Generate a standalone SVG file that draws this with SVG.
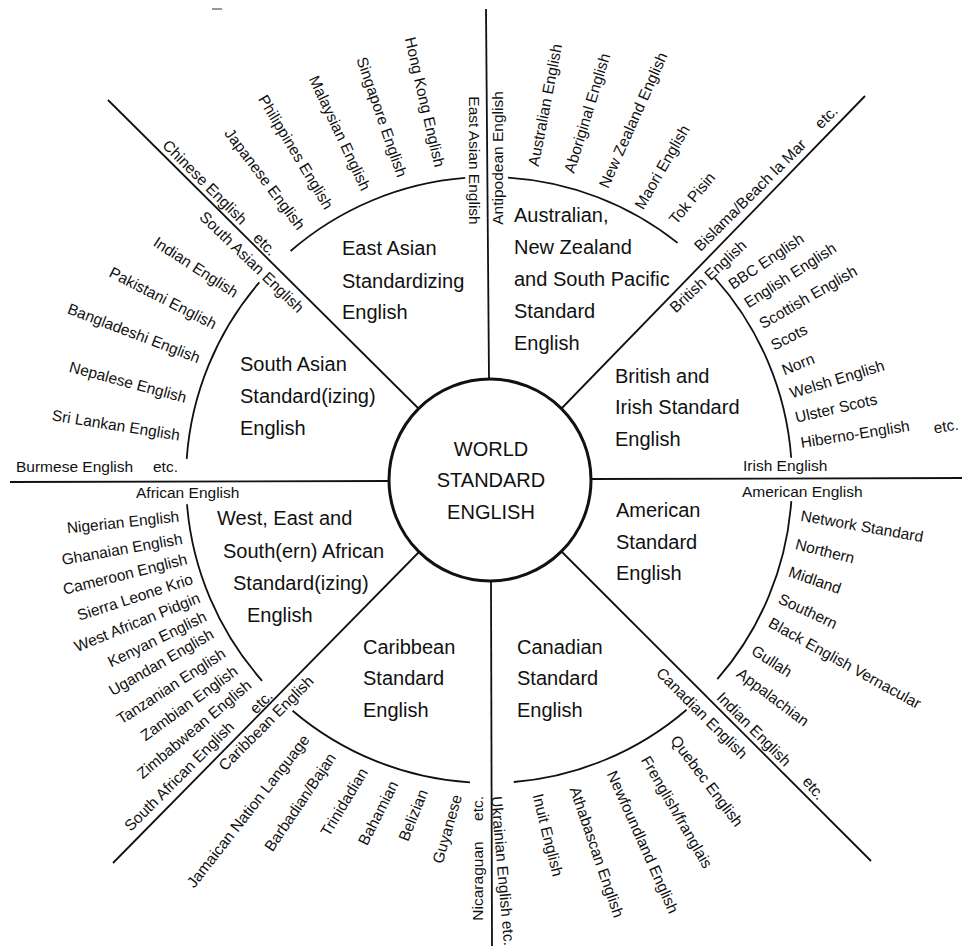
<svg xmlns="http://www.w3.org/2000/svg" width="965" height="946" viewBox="0 0 965 946">
<style>
text{font-family:"Liberation Sans",Arial,Helvetica,sans-serif;fill:#111}
.s{font-size:15.5px}
.r{font-size:15.5px;text-anchor:middle}
.b{font-size:20px}
.c{font-size:20px;text-anchor:middle}
.ln{stroke:#111;stroke-width:1.8;fill:none}
</style>
<rect width="965" height="946" fill="#fff"/>
<line x1="212" y1="9" x2="222" y2="9" stroke="#555" stroke-width="1.2"/>
<g id="connectors" class="ln">
<line x1="486" y1="9" x2="489" y2="379"/>
<line x1="491" y1="581" x2="492" y2="946"/>
<line x1="10" y1="482" x2="389" y2="481"/>
<line x1="591" y1="479" x2="962" y2="478"/>
<line x1="108" y1="100" x2="419" y2="409"/>
<line x1="865" y1="96" x2="561" y2="409"/>
<line x1="113" y1="863" x2="419" y2="552"/>
<line x1="871" y1="861" x2="562" y2="552"/>
</g>
<g id="ring" class="ln">
<path d="M290.6 251 A303 303 0 0 1 465.2 177.9"/>
<path d="M508 177.6 A303 303 0 0 1 677.6 242.9"/>
<path d="M714.9 278 A303 303 0 0 1 791.2 457.8"/>
<path d="M791.3 501.1 A303 303 0 0 1 717.3 679.2"/>
<path d="M686.6 709.7 A303 303 0 0 1 513.8 782"/>
<path d="M470 782.4 A303 303 0 0 1 292.6 710.7"/>
<path d="M262.1 680.8 A303 303 0 0 1 187 504.3"/>
<path d="M186.7 458.9 A303 303 0 0 1 259.3 282.4"/>
</g>
<g id="world">
<circle cx="490" cy="480" r="101" fill="#fff" stroke="#111" stroke-width="3"/>
<text class="c" x="491" y="456">WORLD</text>
<text class="c" x="491" y="487">STANDARD</text>
<text class="c" x="491" y="519">ENGLISH</text>
</g>
<g id="east-asian">
<text class="b" x="342" y="255">East Asian</text>
<text class="b" x="342" y="288">Standardizing</text>
<text class="b" x="342" y="319">English</text>
<text class="r" transform="translate(205 182) rotate(45)" y="5.5">Chinese English</text>
<text class="r" transform="translate(265 244) rotate(45)" y="5.5">etc.</text>
<text class="r" transform="translate(265 179) rotate(53)" y="5.5">Japanese English</text>
<text class="r" transform="translate(296 152) rotate(59)" y="5.5">Philippines English</text>
<text class="r" transform="translate(340 133) rotate(65)" y="5.5">Malaysian English</text>
<text class="r" transform="translate(382 117) rotate(71)" y="5.5">Singapore English</text>
<text class="r" transform="translate(425 102) rotate(77)" y="5.5">Hong Kong English</text>
<text class="r" transform="translate(474.5 160.5) rotate(90)" y="5.5">East Asian English</text>
</g>
<g id="antipodean">
<text class="b" x="514" y="222">Australian,</text>
<text class="b" x="514" y="254">New Zealand</text>
<text class="b" x="514" y="286">and South Pacific</text>
<text class="b" x="514" y="318">Standard</text>
<text class="b" x="514" y="350">English</text>
<text class="r" transform="translate(497.5 158) rotate(-90)" y="5.5">Antipodean English</text>
<text class="r" transform="translate(545 105) rotate(-79)" y="5.5">Australian English</text>
<text class="r" transform="translate(587 113) rotate(-73)" y="5.5">Aboriginal English</text>
<text class="r" transform="translate(633 120) rotate(-66)" y="5.5">New Zealand English</text>
<text class="r" transform="translate(662 167) rotate(-60)" y="5.5">Maori English</text>
<text class="r" transform="translate(692 198) rotate(-50)" y="5.5">Tok Pisin</text>
<text class="r" transform="translate(750 195) rotate(-45)" y="5.5">Bislama/Beach la Mar</text>
<text class="r" transform="translate(826 117) rotate(-45)" y="5.5">etc.</text>
</g>
<g id="british">
<text class="b" x="615" y="383">British and</text>
<text class="b" x="615" y="414">Irish Standard</text>
<text class="b" x="615" y="446">English</text>
<text class="r" transform="translate(708 276) rotate(-43)" y="5.5">British English</text>
<text class="r" transform="translate(766 261) rotate(-34)" y="5.5">BBC English</text>
<text class="r" transform="translate(790 275) rotate(-33)" y="5.5">English English</text>
<text class="r" transform="translate(808 297) rotate(-30)" y="5.5">Scottish English</text>
<text class="r" transform="translate(789 337) rotate(-27)" y="5.5">Scots</text>
<text class="r" transform="translate(798 364) rotate(-22)" y="5.5">Norn</text>
<text class="r" transform="translate(837 379) rotate(-17)" y="5.5">Welsh English</text>
<text class="r" transform="translate(836 408) rotate(-13)" y="5.5">Ulster Scots</text>
<text class="r" transform="translate(855 434) rotate(-9)" y="5.5">Hiberno-English</text>
<text class="r" transform="translate(946 426) rotate(-9)" y="5.5">etc.</text>
<text class="s" x="743" y="471">Irish English</text>
</g>
<g id="american">
<text class="b" x="616" y="517">American</text>
<text class="b" x="616" y="549">Standard</text>
<text class="b" x="616" y="580">English</text>
<text class="s" x="742" y="497">American English</text>
<text class="r" transform="translate(862 526) rotate(10)" y="5.5">Network Standard</text>
<text class="r" transform="translate(825 551) rotate(14)" y="5.5">Northern</text>
<text class="r" transform="translate(815 580) rotate(19)" y="5.5">Midland</text>
<text class="r" transform="translate(808 611) rotate(25)" y="5.5">Southern</text>
<text class="r" transform="translate(845 663) rotate(29)" y="5.5">Black English Vernacular</text>
<text class="r" transform="translate(772 661) rotate(33)" y="5.5">Gullah</text>
<text class="r" transform="translate(773 697) rotate(37)" y="5.5">Appalachian</text>
<text class="r" transform="translate(754 729) rotate(45)" y="5.5">Indian English</text>
<text class="r" transform="translate(814 788) rotate(50)" y="5.5">etc.</text>
</g>
<g id="canadian">
<text class="b" x="517" y="654">Canadian</text>
<text class="b" x="517" y="685">Standard</text>
<text class="b" x="517" y="717">English</text>
<text class="r" transform="translate(702 713) rotate(45)" y="5.5">Canadian English</text>
<text class="r" transform="translate(707 781) rotate(53)" y="5.5">Quebec English</text>
<text class="r" transform="translate(677 812) rotate(60)" y="5.5">Frenglish/franglais</text>
<text class="r" transform="translate(643 842) rotate(66)" y="5.5">Newfoundland English</text>
<text class="r" transform="translate(597 852) rotate(71)" y="5.5">Athabascan English</text>
<text class="r" transform="translate(548 835) rotate(76)" y="5.5">Inuit English</text>
<text class="r" transform="translate(503 871) rotate(85)" y="5.5">Ukrainian English etc.</text>
</g>
<g id="caribbean">
<text class="b" x="363" y="654">Caribbean</text>
<text class="b" x="363" y="685">Standard</text>
<text class="b" x="363" y="717">English</text>
<text class="r" transform="translate(266 723) rotate(-45)" y="5.5">Caribbean English</text>
<text class="r" transform="translate(248 811) rotate(-52)" y="5.5">Jamaican Nation Language</text>
<text class="r" transform="translate(300 802) rotate(-56)" y="5.5">Barbadian/Bajan</text>
<text class="r" transform="translate(344 802) rotate(-59)" y="5.5">Trinidadian</text>
<text class="r" transform="translate(378 813) rotate(-63)" y="5.5">Bahamian</text>
<text class="r" transform="translate(413 815) rotate(-68)" y="5.5">Belizian</text>
<text class="r" transform="translate(447 829) rotate(-74)" y="5.5">Guyanese</text>
<text class="r" transform="translate(477.5 881) rotate(-90)" y="5.5">Nicaraguan</text>
<text class="r" transform="translate(477.5 808.5) rotate(-90)" y="5.5">etc.</text>
</g>
<g id="african">
<text class="b" x="217" y="525">West, East and</text>
<text class="b" x="223" y="558">South(ern) African</text>
<text class="b" x="233" y="590">Standard(izing)</text>
<text class="b" x="247" y="622">English</text>
<text class="s" x="136" y="498">African English</text>
<text class="r" transform="translate(123 522) rotate(-6)" y="5.5">Nigerian English</text>
<text class="r" transform="translate(122 549) rotate(-10)" y="5.5">Ghanaian English</text>
<text class="r" transform="translate(125 574) rotate(-14)" y="5.5">Cameroon English</text>
<text class="r" transform="translate(135 597) rotate(-18)" y="5.5">Sierra Leone Krio</text>
<text class="r" transform="translate(137 622) rotate(-22)" y="5.5">West African Pidgin</text>
<text class="r" transform="translate(157 639) rotate(-26)" y="5.5">Kenyan English</text>
<text class="r" transform="translate(161 662) rotate(-30)" y="5.5">Ugandan English</text>
<text class="r" transform="translate(171 686) rotate(-33)" y="5.5">Tanzanian English</text>
<text class="r" transform="translate(189 703) rotate(-36)" y="5.5">Zambian English</text>
<text class="r" transform="translate(194 729) rotate(-40)" y="5.5">Zimbabwean English</text>
<text class="r" transform="translate(261 702) rotate(-45)" y="5.5">etc.</text>
<text class="r" transform="translate(179 776) rotate(-45)" y="5.5">South African English</text>
</g>
<g id="south-asian">
<text class="b" x="240" y="371">South Asian</text>
<text class="b" x="240" y="403">Standard(izing)</text>
<text class="b" x="240" y="435">English</text>
<text class="r" transform="translate(252 262) rotate(44)" y="5.5">South Asian English</text>
<text class="r" transform="translate(196 267) rotate(33)" y="5.5">Indian English</text>
<text class="r" transform="translate(163 298) rotate(27)" y="5.5">Pakistani English</text>
<text class="r" transform="translate(134 333) rotate(21)" y="5.5">Bangladeshi English</text>
<text class="r" transform="translate(128 382) rotate(15)" y="5.5">Nepalese English</text>
<text class="r" transform="translate(116 425) rotate(9)" y="5.5">Sri Lankan English</text>
<text class="s" x="16" y="472">Burmese English</text>
<text class="s" x="153" y="472">etc.</text>
</g>
</svg>
